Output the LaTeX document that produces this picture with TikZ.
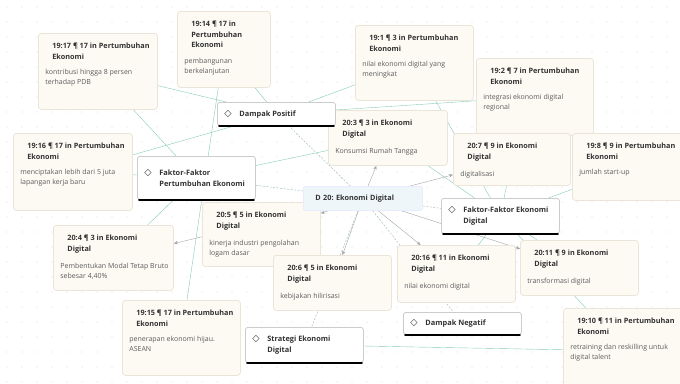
\documentclass[tikz,border=0pt]{standalone}
\usepackage{fontspec}
\setmainfont{Open Sans}
\newfontfamily\symfont{DejaVu Sans}
\usetikzlibrary{arrows.meta,backgrounds}

\definecolor{quotefill}{HTML}{FCFAF3}
\definecolor{quoteline}{HTML}{EAE5D8}
\definecolor{linkgreen}{HTML}{86CCB4}
\definecolor{docline}{HTML}{98B8B2}
\definecolor{arrowgray}{HTML}{A0A6AA}
\definecolor{docfill}{HTML}{EEF6FA}
\definecolor{titlegray}{HTML}{333333}
\definecolor{bodygray}{HTML}{5C5C5C}
\definecolor{dotgray}{HTML}{DCDCDC}

% quotation text: width, height, title, body
\newcommand{\qtext}[4]{%
  \parbox[c][#2][t]{#1}{\vspace*{10pt}%
    \hspace*{7pt}\parbox[t]{\dimexpr#1-7pt\relax}{\leavevmode\color{titlegray}\fontsize{7.3}{10.5}\selectfont\bfseries #3}\par
    \vspace{9pt}%
    \parbox[t]{\dimexpr#1+8pt\relax}{\raggedright\leavevmode\color{bodygray}\fontsize{7}{10}\selectfont #4}}}
% code text with its diamond
\newcommand{\ctext}[1]{%
  \makebox[15pt][l]{\symfont\fontsize{9.5}{9.5}\selectfont ◇}%
  \parbox[t]{89pt}{\raggedright\leavevmode\fontsize{7.4}{11}\selectfont\bfseries #1}}

\begin{document}
\begin{tikzpicture}[x=1pt, y=-1pt,
                    line width=0.8pt]
    \tikzstyle{quote}=[draw=quoteline, fill=quotefill, rounded corners=3pt,
                       inner xsep=7pt, inner ysep=0pt, anchor=north west]
    \tikzstyle{code}=[draw=gray!40, fill=white, rounded corners=2.5pt, text=titlegray,
                      inner xsep=7pt, inner ysep=0pt, anchor=north west]
    \tikzstyle{doc}=[draw=blue!8, fill=docfill, rounded corners=2pt, text width=95pt,
                     inner xsep=12pt, minimum height=24pt, anchor=north west, text=titlegray,
                     font=\fontsize{7.3}{9}\selectfont\bfseries\frenchspacing]
    \tikzstyle{link}=[draw=linkgreen]
    \tikzstyle{doclink}=[draw=docline, dash pattern=on 2pt off 1.5pt]
    \tikzstyle{quotelink}=[draw=arrowgray, -{Stealth[length=4pt,width=3.5pt]}]

    \useasboundingbox (0,0) rectangle (680,383);
    \clip (0,0) rectangle (680,383);

    % quotations
    \node[quote] (q1917) at (38,33)  {\qtext{105pt}{76pt}{19:17 ¶ 17 in Pertumbuhan\\Ekonomi}{kontribusi hingga 8 persen\\terhadap PDB}};
    \node[quote] (q1914) at (177,11) {\qtext{79pt}{76pt}{19:14 ¶ 17 in\\Pertumbuhan\\Ekonomi}{pembangunan\\berkelanjutan}};
    \node[quote] (q191)  at (355,25) {\qtext{104pt}{75pt}{19:1 ¶ 3 in Pertumbuhan\\Ekonomi}{nilai ekonomi digital yang\\meningkat}};
    \node[quote] (q192)  at (476,58) {\qtext{103pt}{77pt}{19:2 ¶ 7 in Pertumbuhan\\Ekonomi}{integrasi ekonomi digital\\regional}};
    \node[quote] (q203)  at (328,110) {\qtext{105pt}{55pt}{20:3 ¶ 3 in Ekonomi\\Digital}{Konsumsi Rumah Tangga}};
    \node[quote] (q1916) at (13,133) {\qtext{105pt}{77pt}{19:16 ¶ 17 in Pertumbuhan\\Ekonomi}{menciptakan lebih dari 5 juta\\lapangan kerja baru}};
    \node[quote] (q207)  at (453,133) {\qtext{103pt}{52pt}{20:7 ¶ 9 in Ekonomi\\Digital}{digitalisasi}};
    \node[quote] (q198)  at (572,133) {\qtext{106pt}{67pt}{19:8 ¶ 9 in Pertumbuhan\\Ekonomi}{jumlah start-up}};
    \node[quote] (q205)  at (202,202) {\qtext{104pt}{64pt}{20:5 ¶ 5 in Ekonomi\\Digital}{kinerja industri pengolahan\\logam dasar}};
    \node[quote] (q204)  at (53,225) {\qtext{106pt}{65pt}{20:4 ¶ 3 in Ekonomi\\Digital}{Pembentukan Modal Tetap Bruto\\sebesar 4,40\%}};
    \node[quote] (q2011) at (520,240) {\qtext{104pt}{55pt}{20:11 ¶ 9 in Ekonomi\\Digital}{transformasi digital}};
    \node[quote] (q2016) at (397,245) {\qtext{104pt}{57pt}{20:16 ¶ 11 in Ekonomi\\Digital}{nilai ekonomi digital}};
    \node[quote] (q206)  at (273,255) {\qtext{104pt}{55pt}{20:6 ¶ 5 in Ekonomi\\Digital}{kebijakan hilirisasi}};
    \node[quote] (q1915) at (122,300) {\qtext{104pt}{75pt}{19:15 ¶ 17 in Pertumbuhan\\Ekonomi}{penerapan ekonomi hijau.\\ASEAN}};
    \node[quote] (q1910) at (563,308) {\qtext{110pt}{85pt}{19:10 ¶ 11 in Pertumbuhan\\Ekonomi}{retraining dan reskilling untuk\\digital talent}};

    % codes
    \node[code, minimum height=23pt] (dp)   at (217,102) {\ctext{Dampak Positif}};
    \node[code, minimum height=43pt] (ffpe) at (137,156) {\ctext{Faktor-Faktor\\Pertumbuhan Ekonomi}};
    \node[code, minimum height=35pt] (ffed) at (441,198) {\ctext{Faktor-Faktor Ekonomi\\Digital}};
    \node[code, minimum height=22pt] (dn)   at (403,312) {\ctext{Dampak Negatif}};
    \node[code, minimum height=35pt] (sed)  at (245,327) {\ctext{Strategi Ekonomi\\Digital}};
    \foreach \c in {dp,ffpe,ffed,dn,sed}
        \draw[line width=2pt, line cap=round] ([xshift=2pt,yshift=-0.5pt]\c.south west) -- ([xshift=-2pt,yshift=-0.5pt]\c.south east);

    % document
    \node[doc] (d20) at (303,186) {D 20: Ekonomi Digital};

    \begin{scope}[on background layer]
        \foreach \x in {7,22,...,682}
            \foreach \y in {7,22,...,382}
                \fill[dotgray] (\x,\y) circle (0.6pt);
    \end{scope}

    \begin{scope}[on background layer]
        % code links
        \draw[link] (q1917) -- (dp);
        \draw[link] (q1917) -- (ffpe);
        \draw[link] (q1914) -- (dp);
        \draw[link] (q1914) -- (q1915);
        \draw[link] (q191) -- (dp);
        \draw[link] (dp) -- (q192);
        \draw[link] (q1916) -- (dp);
        \draw[link] (q1916) -- (ffpe);
        \draw[link] (ffpe) -- (q203);
        \draw[link] (ffpe) -- (q204);
        \draw[link] (q203) -- (ffed);
        \draw[link] (q191) -- (ffed);
        \draw[link] (q207) -- (ffed);
        \draw[link] (q198) -- (ffed);
        \draw[link] (ffed) -- (q2016);
        \draw[link] (ffed) -- (q2011);
        \draw[link] (ffed) -- (q1910);
        \draw[link] (sed) -- (q1910);
        % document to codes
        \draw[doclink] (d20) -- (dp);
        \draw[doclink] (d20) -- (ffpe);
        \draw[doclink] (d20) -- (ffed);
        \draw[doclink] (d20) -- (dn);
        \draw[doclink] (d20) -- (sed);
        % document to quotations
        \foreach \q in {q203,q205,q204,q206,q2016,q207,q2011}
            \draw[quotelink] (d20) -- (\q);
    \end{scope}
\end{tikzpicture}
\end{document}
